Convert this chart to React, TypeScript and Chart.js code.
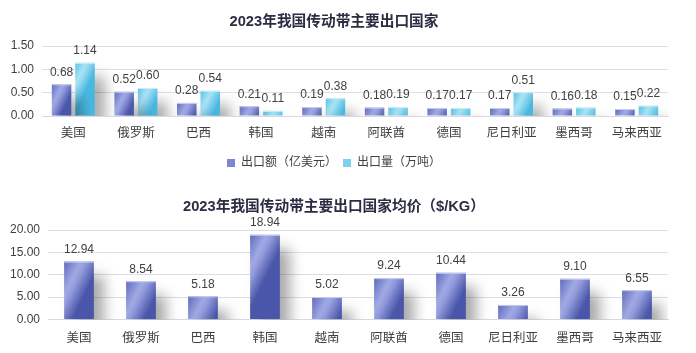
import React, { useEffect, useRef } from "react";
import { Chart, registerables } from "chart.js";

Chart.register(...registerables);

const categories = ["美国", "俄罗斯", "巴西", "韩国", "越南", "阿联酋", "德国", "尼日利亚", "墨西哥", "马来西亚"];
const exportValue = [0.68, 0.52, 0.28, 0.21, 0.19, 0.18, 0.17, 0.17, 0.16, 0.15];
const exportVolume = [1.14, 0.6, 0.54, 0.11, 0.38, 0.19, 0.17, 0.51, 0.18, 0.22];
const avgPrice = [12.94, 8.54, 5.18, 18.94, 5.02, 9.24, 10.44, 3.26, 9.1, 6.55];

const title1 = "2023年我国传动带主要出口国家";
const title2 = "2023年我国传动带主要出口国家均价（$/KG）";
const legend1 = "出口额（亿美元）";
const legend2 = "出口量（万吨）";

const FONT = '"Liberation Sans", "Noto Sans CJK SC", sans-serif';

const BLUE_STOPS: [number, string][] = [
  [0, "#606bbd"],
  [0.45, "#a1a9e4"],
  [0.6, "#929bdc"],
  [1, "#4a56a9"],
];
const CYAN_STOPS: [number, string][] = [
  [0, "#56c2e5"],
  [0.45, "#abe3f5"],
  [0.6, "#93d9f0"],
  [1, "#48b8e0"],
];

const barStylePlugin = {
  id: "barStyle",
  beforeDatasetsDraw(chart: any) {
    const ctx = chart.ctx;
    chart.data.datasets.forEach((ds: any, di: number) => {
      const meta = chart.getDatasetMeta(di);
      const stops = ds._stops || BLUE_STOPS;
      meta.data.forEach((el: any) => {
        const w = el.width;
        const x0 = el.x - w / 2;
        const g = ctx.createLinearGradient(x0, el.y, x0 + w, el.y + w * 0.5);
        stops.forEach(([o, c]: [number, string]) => g.addColorStop(o, c));
        el.options = { ...el.options, backgroundColor: g };
      });
    });
    ctx.save();
    ctx.shadowColor = "rgba(0,0,0,0.34)";
    ctx.shadowBlur = 14;
    ctx.shadowOffsetX = 10;
    ctx.shadowOffsetY = 14;
  },
  afterDatasetsDraw(chart: any) {
    const ctx = chart.ctx;
    ctx.restore();
    ctx.save();
    chart.data.datasets.forEach((ds: any, di: number) => {
      const meta = chart.getDatasetMeta(di);
      ctx.fillStyle = ds._edge || "#c8ccf0";
      meta.data.forEach((el: any) => {
        ctx.fillRect(el.x - el.width / 2, el.y, el.width, 1);
      });
    });
    ctx.font = `12px ${FONT}`;
    ctx.fillStyle = "#404040";
    ctx.textAlign = "center";
    ctx.textBaseline = "middle";
    chart.data.datasets.forEach((ds: any, di: number) => {
      const meta = chart.getDatasetMeta(di);
      meta.data.forEach((el: any, i: number) => {
        ctx.fillText(Number(ds.data[i]).toFixed(2), el.x, el.y - 12);
      });
    });
    ctx.restore();
  },
};

function makeOptions(opts: {
  title: string;
  titleTop: number;
  titleBottom: number;
  yMax: number;
  yStep: number;
  yWidth: number;
  legend: boolean;
  legendPad: number;
  padBottom: number;
  xPad: number;
}) {
  return {
    responsive: false,
    animation: false as const,
    maintainAspectRatio: false,
    layout: { padding: { left: 0, right: 28, top: 0, bottom: opts.padBottom } },
    plugins: {
      title: {
        display: true,
        text: opts.title,
        color: "#2b2d42",
        font: { family: FONT, size: 14.7, weight: "bold" as const },
        padding: { top: opts.titleTop, bottom: opts.titleBottom },
      },
      legend: {
        display: opts.legend,
        position: "bottom" as const,
        labels: {
          boxWidth: 8,
          boxHeight: 8,
          padding: opts.legendPad,
          color: "#404040",
          font: { family: FONT, size: 12 },
        },
      },
      tooltip: { enabled: false },
    },
    scales: {
      x: {
        grid: { display: false, drawTicks: false },
        border: { display: true, color: "#d8d8e6" },
        ticks: { color: "#404040", font: { family: FONT, size: 12.5 }, padding: opts.xPad, autoSkip: false, maxRotation: 0 },
      },
      y: {
        min: 0,
        max: opts.yMax,
        grid: { color: "#dcdcea", drawTicks: false, lineWidth: 1 },
        border: { display: false },
        afterFit: (s: any) => {
          s.width = opts.yWidth;
        },
        ticks: {
          stepSize: opts.yStep,
          color: "#404040",
          font: { family: FONT, size: 12 },
          padding: 8,
          callback: (v: any) => Number(v).toFixed(2),
        },
      },
    },
  };
}

function TopChart() {
  const ref = useRef<HTMLCanvasElement>(null);
  useEffect(() => {
    const chart = new Chart(ref.current!, {
      type: "bar",
      data: {
        labels: categories,
        datasets: [
          {
            label: legend1,
            data: exportValue,
            backgroundColor: "#7d86d0",
            borderWidth: 0,
            categoryPercentage: 0.75,
            barPercentage: 0.83,
            _stops: BLUE_STOPS,
            _edge: "#c8ccf0",
          } as any,
          {
            label: legend2,
            data: exportVolume,
            backgroundColor: "#7fd2ef",
            borderWidth: 0,
            categoryPercentage: 0.75,
            barPercentage: 0.83,
            _stops: CYAN_STOPS,
            _edge: "#c8eef9",
          } as any,
        ],
      },
      options: makeOptions({
        title: title1,
        titleTop: 13.2,
        titleBottom: 15.2,
        yMax: 1.5,
        yStep: 0.5,
        yWidth: 42,
        legend: true,
        legendPad: 6,
        padBottom: 1,
        xPad: 10,
      }) as any,
      plugins: [barStylePlugin],
    });
    return () => chart.destroy();
  }, []);
  return (
    <canvas
      ref={ref}
      width={696}
      height={180}
      style={{ position: "absolute", left: 0, top: 0, display: "block", width: 696, height: 180 }}
    />
  );
}

function BottomChart() {
  const ref = useRef<HTMLCanvasElement>(null);
  useEffect(() => {
    const chart = new Chart(ref.current!, {
      type: "bar",
      data: {
        labels: categories,
        datasets: [
          {
            label: "均价",
            data: avgPrice,
            backgroundColor: "#7d86d0",
            borderWidth: 0,
            categoryPercentage: 0.8,
            barPercentage: 0.6,
            _stops: BLUE_STOPS,
            _edge: "#c8ccf0",
          } as any,
        ],
      },
      options: makeOptions({
        title: title2,
        titleTop: 20.2,
        titleBottom: 14.2,
        yMax: 20,
        yStep: 5,
        yWidth: 48,
        legend: false,
        legendPad: 10,
        padBottom: 0.5,
        xPad: 11.5,
      }) as any,
      plugins: [barStylePlugin],
    });
    return () => chart.destroy();
  }, []);
  return (
    <canvas
      ref={ref}
      width={696}
      height={180}
      style={{ position: "absolute", left: 0, top: 178, display: "block", width: 696, height: 180 }}
    />
  );
}

export default function App() {
  return (
    <div
      style={{
        position: "absolute",
        left: 0,
        top: 0,
        width: 696,
        height: 353,
        overflow: "hidden",
        background: "#ffffff",
      }}
    >
      <TopChart />
      <BottomChart />
    </div>
  );
}
